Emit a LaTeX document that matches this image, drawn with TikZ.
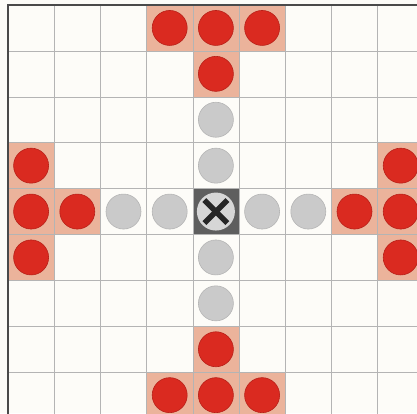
\documentclass[tikz,border=0pt]{standalone}
\definecolor{bgcream}{HTML}{FDFCF8}
\definecolor{pinkbg}{HTML}{EBB39B}
\definecolor{discred}{HTML}{DA2A20}
\definecolor{discredd}{HTML}{B82018}
\definecolor{discgrey}{HTML}{CACACA}
\definecolor{discgreyd}{HTML}{B5B5B5}
\definecolor{centredark}{HTML}{5E5E5E}
\definecolor{centredisc}{HTML}{D6D6D6}
\definecolor{gridgrey}{HTML}{B4B4B4}
\definecolor{bordergrey}{HTML}{4A4A4A}
\begin{document}
\begin{tikzpicture}[x=1pt,y=-1pt,
  pinkcell/.style={fill=pinkbg,draw=none},
  reddisc/.style={circle,minimum size=35pt,inner sep=0pt,fill=discred,draw=discredd,line width=0.6pt},
  greydisc/.style={circle,minimum size=35pt,inner sep=0pt,fill=discgrey,draw=discgreyd,line width=0.6pt},
  centredisc/.style={circle,minimum size=38pt,inner sep=0pt,fill=centredisc,draw=none},
  gridline/.style={draw=gridgrey,line width=0.5pt},
  borderline/.style={draw=bordergrey,line width=1.4pt},
  xmark/.style={draw=black!85,line width=5.5pt}]
\useasboundingbox (0,0) rectangle (417,413);
\fill[bgcream] (0,0) rectangle (417,413);
\begin{scope}
\clip (0,0) rectangle (417,413);
% pink cells
\foreach \c/\r in {3/0,4/0,5/0,4/1,0/3,8/3,0/4,1/4,7/4,8/4,0/5,8/5,4/7,3/8,4/8,5/8}{
  \fill[pinkcell] ({8+46.2*\c},{5+45.9*\r}) rectangle ({8+46.2*(\c+1)},{5+45.9*(\r+1)});
}
% centre cell
\fill[centredark] ({8+46.2*4},{5+45.9*4}) rectangle ({8+46.2*5},{5+45.9*5});
% grid
\foreach \i in {1,...,8}{
  \draw[gridline] ({8+46.2*\i},5) -- ({8+46.2*\i},420);
  \draw[gridline] (8,{5+45.9*\i}) -- (424,{5+45.9*\i});
}
\draw[borderline] (8,420) -- (8,5) -- (424,5);
% red discs
\foreach \c/\r in {3/0,4/0,5/0,4/1,0/3,8/3,0/4,1/4,7/4,8/4,0/5,8/5,4/7,3/8,4/8,5/8}{
  \node[reddisc] (r-\c-\r) at ({8+46.2*(\c+0.5)},{5+45.9*(\r+0.5)}) {};
}
% grey discs
\foreach \c/\r in {4/2,4/3,2/4,3/4,5/4,6/4,4/5,4/6}{
  \node[greydisc] (g-\c-\r) at ({8+46.2*(\c+0.5)},{5+45.9*(\r+0.5)}) {};
}
% centre
\node[centredisc] (centre) at ({8+46.2*4.5},{5+45.9*4.5}) {};
\draw[xmark] ([shift={(-11.5,-11.5)}]centre.center) -- ([shift={(11.5,11.5)}]centre.center);
\draw[xmark] ([shift={(-11.5,11.5)}]centre.center) -- ([shift={(11.5,-11.5)}]centre.center);
\end{scope}
\end{tikzpicture}
\end{document}
